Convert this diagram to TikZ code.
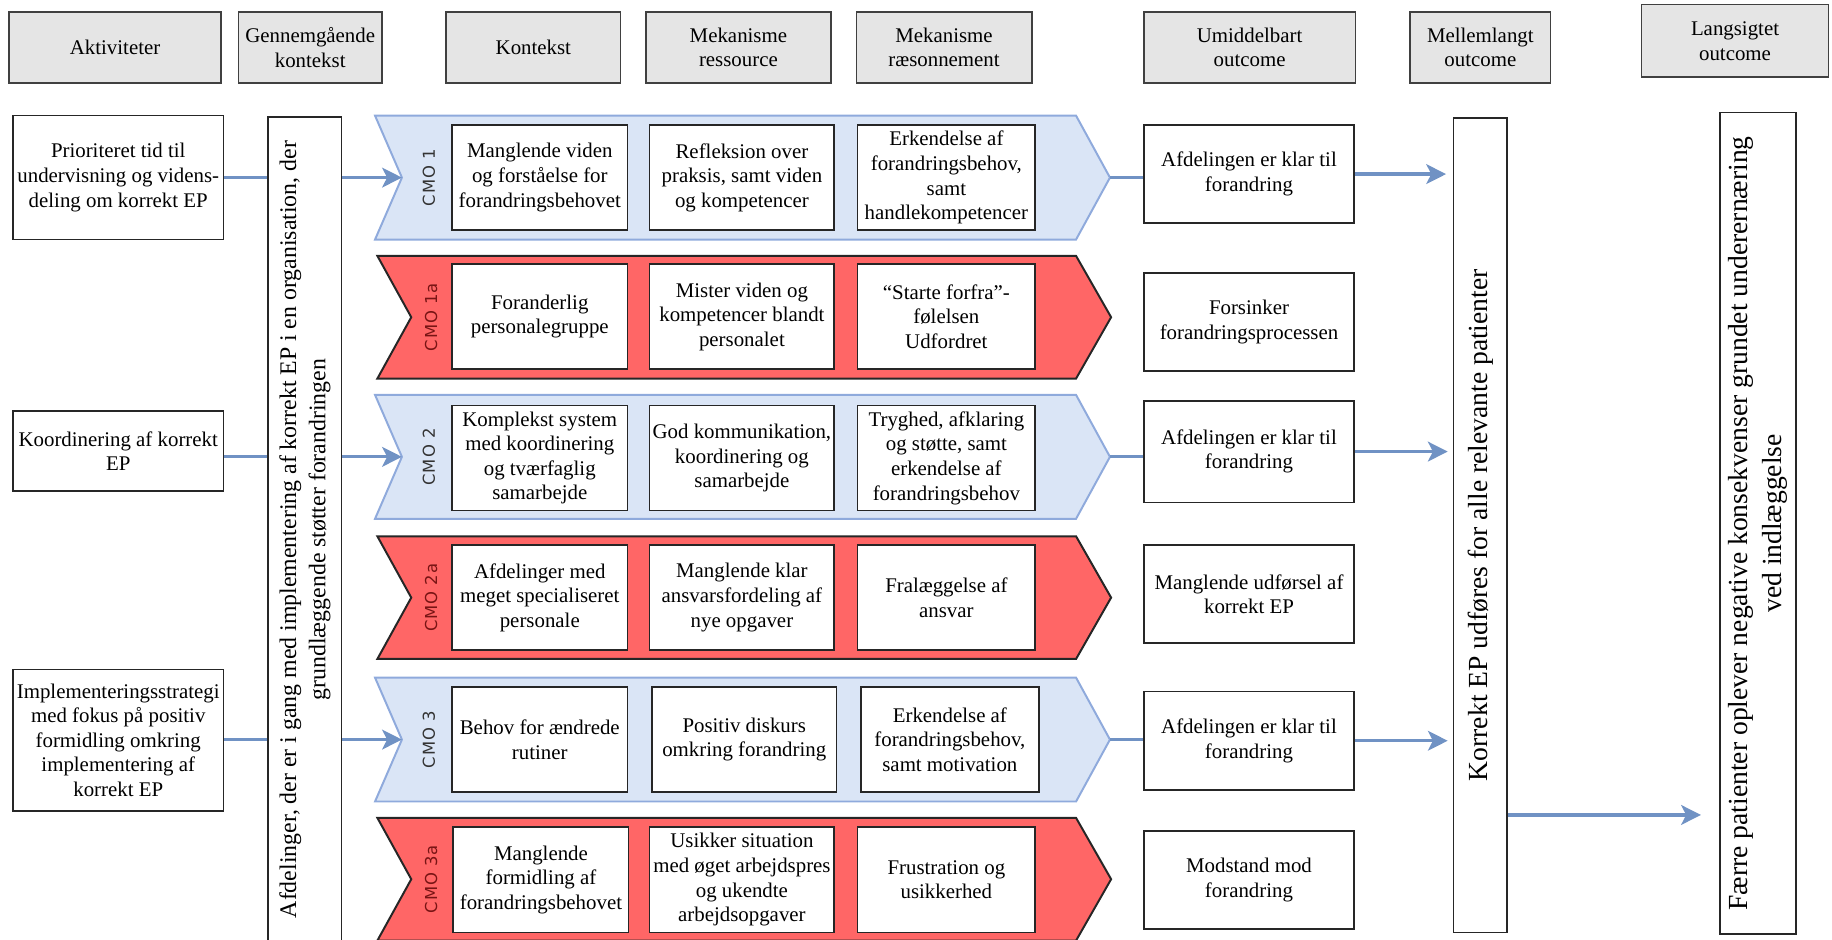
\documentclass[tikz,border=0pt]{standalone}
\usepackage{fontspec}
\setmainfont{Liberation Serif}
\newfontfamily\cmofont[LetterSpace=6]{DejaVu Sans}
\usepackage{xcolor}
\usepackage{tikz}
\usetikzlibrary{arrows.meta, calc}
\definecolor{arrblue}{RGB}{112,146,196}
\definecolor{bandblue}{RGB}{218,229,246}
\definecolor{bandline}{RGB}{143,170,220}
\definecolor{bandred}{RGB}{255,102,102}
\definecolor{hdrgray}{RGB}{229,229,229}
\definecolor{cmodark}{RGB}{120,20,20}

\begin{document}
\begin{tikzpicture}[x=0.025cm, y=-0.025cm,
  hdr/.style={rectangle, draw=black!75, fill=hdrgray, line width=1pt, align=center, inner sep=1pt, font=\fontsize{12.7}{15}\selectfont},
  box/.style={rectangle, draw=black!85, fill=white, line width=1pt, align=center, inner sep=1pt, font=\fontsize{12.7}{15}\selectfont},
  inbox/.style={box, minimum height=2.25cm},
  outbox/.style={box, minimum width=4.5cm, minimum height=2.1cm},
  vbox/.style={rectangle, draw=black!85, fill=white, line width=1pt, align=center, rotate=90, inner sep=2pt},
  blueband/.style={fill=bandblue, draw=bandline, line width=1.2pt},
  redband/.style={fill=bandred, draw=black!85, line width=1.2pt},
  cmo/.style={rotate=90, inner sep=0pt, font=\cmofont\fontsize{10}{12}\selectfont, text=black!80},
  cmor/.style={cmo, text=cmodark},
  arr/.style={-{Stealth[length=12pt, width=12pt, inset=3pt]}, line width=2pt, arrblue},
  link/.style={line width=2pt, arrblue}
]
\useasboundingbox (0,0) rectangle (1568,804);
% Headers
\node[hdr, minimum width=4.525cm, minimum height=1.525cm] (hakt) at (98.5,40.5) {Aktiviteter};
\node[hdr, minimum width=3.075cm, minimum height=1.525cm] (hgen) at (265.5,40.5) {Gennemgående\\kontekst};
\node[hdr, minimum width=3.725cm, minimum height=1.525cm] (hkon) at (456.5,40.5) {Kontekst};
\node[hdr, minimum width=3.95cm, minimum height=1.525cm] (hres) at (632,40.5) {Mekanisme\\ressource};
\node[hdr, minimum width=3.75cm, minimum height=1.525cm] (hrae) at (808,40.5) {Mekanisme\\ræsonnement};
\node[hdr, minimum width=4.525cm, minimum height=1.525cm] (humi) at (1069.5,40.5) {Umiddelbart\\outcome};
\node[hdr, minimum width=3cm, minimum height=1.525cm] (hmel) at (1267,40.5) {Mellemlangt\\outcome};
\node[hdr, minimum width=4cm, minimum height=1.55cm] (hlan) at (1485,35) {Langsigtet\\outcome};
% CMO bands
\filldraw[blueband] (321,99) -- (921,99) -- (950,152) coordinate (c1out) -- (921,205) -- (321,205) -- (344,152) coordinate (c1in) -- cycle;
\filldraw[redband] (323,219) -- (921,219) -- (951,271.5) -- (921,324) -- (323,324) -- (352,271.5) -- cycle;
\filldraw[blueband] (321,338) -- (921,338) -- (950,391) coordinate (c2out) -- (921,444) -- (321,444) -- (344,391) coordinate (c2in) -- cycle;
\filldraw[redband] (323,459) -- (921,459) -- (951,511.5) -- (921,564) -- (323,564) -- (352,511.5) -- cycle;
\filldraw[blueband] (321,580) -- (921,580) -- (950,633) coordinate (c3out) -- (921,686) -- (321,686) -- (344,633) coordinate (c3in) -- cycle;
\filldraw[redband] (323,700) -- (921,700) -- (951,752.5) -- (921,805) -- (323,805) -- (352,752.5) -- cycle;
\node[cmo] (l1) at (367,152) {CMO 1};
\node[cmor] (l1a) at (369,271.5) {CMO 1a};
\node[cmo] (l2) at (367,391) {CMO 2};
\node[cmor] (l2a) at (369,511.5) {CMO 2a};
\node[cmo] (l3) at (367,633) {CMO 3};
\node[cmor] (l3a) at (369,752.5) {CMO 3a};
% CMO 1
\node[inbox, minimum width=3.75cm] (kon1) at (462,152) {Manglende viden\\og forståelse for\\forandringsbehovet};
\node[inbox, minimum width=3.95cm] (res1) at (635,152) {Refleksion over\\praksis, samt viden\\og kompetencer};
\node[inbox, minimum width=3.8cm] (rae1) at (810,152) {Erkendelse af\\forandringsbehov,\\samt\\handlekompetencer};
% CMO 1a
\node[inbox, minimum width=3.75cm] (kon1a) at (462,271) {Foranderlig\\personalegruppe};
\node[inbox, minimum width=3.95cm] (res1a) at (635,271) {Mister viden og\\kompetencer blandt\\personalet};
\node[inbox, minimum width=3.8cm] (rae1a) at (810,271) {“Starte forfra”-\\følelsen\\Udfordret};
% CMO 2
\node[inbox, minimum width=3.75cm] (kon2) at (462,392) {Komplekst system\\med koordinering\\og tværfaglig\\samarbejde};
\node[inbox, minimum width=3.95cm] (res2) at (635,392) {God kommunikation,\\koordinering og\\samarbejde};
\node[inbox, minimum width=3.8cm] (rae2) at (810,392) {Tryghed, afklaring\\og støtte, samt\\erkendelse af\\forandringsbehov};
% CMO 2a
\node[inbox, minimum width=3.75cm] (kon2a) at (462,511.5) {Afdelinger med\\meget specialiseret\\personale};
\node[inbox, minimum width=3.95cm] (res2a) at (635,511.5) {Manglende klar\\ansvarsfordeling af\\nye opgaver};
\node[inbox, minimum width=3.8cm] (rae2a) at (810,511.5) {Fralæggelse af\\ansvar};
% CMO 3
\node[inbox, minimum width=3.75cm] (kon3) at (462,633) {Behov for ændrede\\rutiner};
\node[inbox, minimum width=3.95cm] (res3) at (637,633) {Positiv diskurs\\omkring forandring};
\node[inbox, minimum width=3.8cm] (rae3) at (813,633) {Erkendelse af\\forandringsbehov,\\samt motivation};
% CMO 3a
\node[inbox, minimum width=3.75cm] (kon3a) at (463,753) {Manglende\\formidling af\\forandringsbehovet};
\node[inbox, minimum width=3.95cm] (res3a) at (635,753) {Usikker situation\\med øget arbejdspres\\og ukendte\\arbejdsopgaver};
\node[inbox, minimum width=3.8cm] (rae3a) at (810,753) {Frustration og\\usikkerhed};
% Aktiviteter
\node[box, minimum width=4.5cm, minimum height=2.65cm] (akt1) at (101.2,152) {Prioriteret tid til\\undervisning og videns-\\deling om korrekt EP};
\node[box, minimum width=4.5cm, minimum height=1.7cm] (akt2) at (101.2,386) {Koordinering af korrekt\\EP};
\node[box, minimum width=4.5cm, minimum height=3.025cm] (akt3) at (101.2,633.5) {Implementeringsstrategi\\med fokus på positiv\\formidling omkring\\implementering af\\korrekt EP};
\draw[arr] (akt1.east |- c1in) -- (c1in);
\draw[arr] (akt2.east |- c2in) -- (c2in);
\draw[arr] (akt3.east |- c3in) -- (c3in);
% Gennemgaaende kontekst
\node[vbox, minimum width=17.64cm, minimum height=1.575cm, font=\fontsize{14.5}{17.8}\selectfont] (gen) at (260.9,453.25) {Afdelinger, der er i gang med implementering af korrekt EP i en organisation, der\\grundlæggende støtter forandringen};
% Outcomes
\node[outbox] (out1) at (1069,149) {Afdelingen er klar til\\forandring};
\node[outbox] (out1a) at (1069,275.5) {Forsinker\\forandringsprocessen};
\node[outbox, minimum height=2.175cm] (out2) at (1069,386.5) {Afdelingen er klar til\\forandring};
\node[outbox] (out2a) at (1069,508.5) {Manglende udførsel af\\korrekt EP};
\node[outbox] (out3) at (1069,634) {Afdelingen er klar til\\forandring};
\node[outbox] (out3a) at (1069,753) {Modstand mod\\forandring};
\node[vbox, minimum width=17.425cm, minimum height=1.15cm, font=\fontsize{16.8}{20}\selectfont] (korrekt) at (1267,449.5) {Korrekt EP udføres for alle relevante patienter};
\node[vbox, minimum width=17.575cm, minimum height=1.625cm, font=\fontsize{16.8}{20.6}\selectfont] (faerre) at (1504.5,448) {Færre patienter oplever negative konsekvenser grundet underernæring\\ved indlæggelse};
% Arrows (rotated boxes: north is the left side, south the right side)
\draw[link] (c1out) -- (c1out -| out1.west);
\draw[link] (c2out) -- (c2out -| out2.west);
\draw[link] (c3out) -- (c3out -| out3.west);
\draw[arr, shorten >=4pt] (out1.east) -- (out1.east -| korrekt.north);
\draw[arr, shorten >=3pt] (out2.east) -- (out2.east -| korrekt.north);
\draw[arr, shorten >=3pt] (out3.east) -- (out3.east -| korrekt.north);
\draw[arr, shorten >=11pt] (korrekt.south |- 0,697.5) -- (faerre.north |- 0,697.5);
\end{tikzpicture}
\end{document}
